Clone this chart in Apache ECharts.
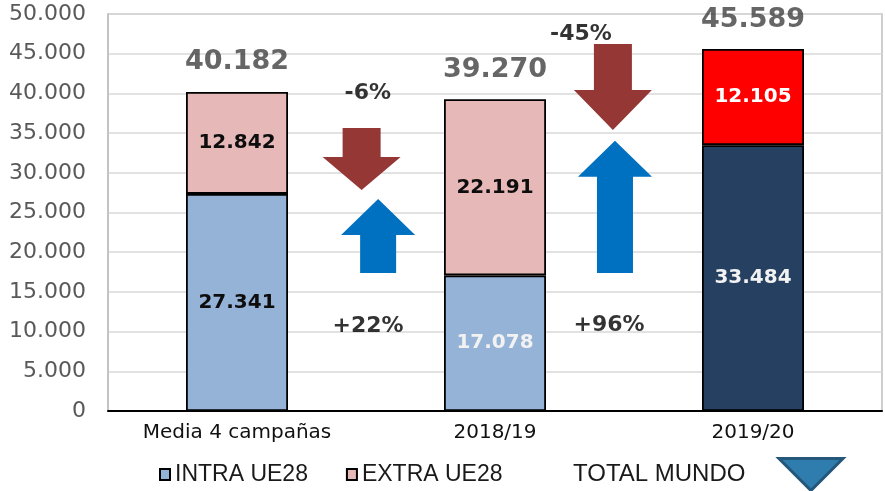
<!DOCTYPE html>
<html>
<head>
<meta charset="utf-8">
<script src="https://cdn.jsdelivr.net/npm/echarts@6/dist/echarts.min.js"></script>
<style>
html,body{margin:0;padding:0;background:#fff;}
#c{width:885px;height:491px;}
</style>
</head>
<body>
<div id="c"></div>
<script>
// ---- data ----
var categories = ['Media 4 campañas', '2018/19', '2019/20'];
var intraValues = [27341, 17078, 33484];
var extraValues = [12842, 22191, 12105];
var totalValues = [40182, 39270, 45589];
var yTicks = [0, 5000, 10000, 15000, 20000, 25000, 30000, 35000, 40000, 45000, 50000];
// change annotations: x in category units, y in data units
var pctLabels = ['-6%', '+22%', '-45%', '+96%'];
var pctX = [0.507, 0.508, 1.333, 1.442];
var pctY = [40050, 10700, 47500, 10830];
// arrows: [x (category units), tail value, head base value, tip value]
var downArrows = [[0.483, 35640, 31990, 27830], [1.457, 46220, 40430, 35390]];
var upArrows = [[0.547, 17380, 22170, 26700], [1.465, 17380, 29510, 34040]];

// ---- styles ----
var intraColors = ['#95B3D7', '#95B3D7', '#254061'];
var extraColors = ['#E6B9B8', '#E6B9B8', '#FF0000'];
var intraLabelColors = ['#0d0d0d', '#F2F2F2', '#F2F2F2'];
var extraLabelColors = ['#0d0d0d', '#0d0d0d', '#FFFFFF'];

function fmt(v) {
  return String(v).replace(/\B(?=(\d{3})+(?!\d))/g, '.');
}

function makeArrow(color, shaftHalf, headHalf) {
  return function (params, api) {
    var x = api.value(0);
    var pTail = api.coord([x, api.value(1)]);
    var pBase = api.coord([x, api.value(2)]);
    var pTip = api.coord([x, api.value(3)]);
    var cx = pTail[0];
    return {
      type: 'polygon',
      shape: {
        points: [
          [cx - shaftHalf, pTail[1]], [cx + shaftHalf, pTail[1]],
          [cx + shaftHalf, pBase[1]], [cx + headHalf, pBase[1]],
          [cx, pTip[1]],
          [cx - headHalf, pBase[1]], [cx - shaftHalf, pBase[1]]
        ]
      },
      style: { fill: color }
    };
  };
}

var barLabelFont = { fontFamily: 'DejaVu Sans', fontWeight: 'bold', fontSize: 20 };

var chart = echarts.init(document.getElementById('c'), null, { renderer: 'canvas' });
chart.setOption({
  animation: false,
  backgroundColor: '#ffffff',
  grid: {
    left: 108, top: 14, right: 3, bottom: 80,
    show: true, borderColor: '#BFBFBF', borderWidth: 1.5, backgroundColor: 'transparent'
  },
  legend: [
    {
      left: 159, top: 463, padding: 0,
      itemWidth: 10, itemHeight: 11, itemGap: 38,
      icon: 'rect',
      textStyle: { fontFamily: 'Liberation Sans', fontSize: 23, color: '#1a1a1a', lineHeight: 23 },
      data: ['INTRA UE28', 'EXTRA UE28']
    },
    {
      left: 573, top: 457, padding: 0,
      align: 'right',
      itemWidth: 67, itemHeight: 32,
      textStyle: { fontFamily: 'Liberation Sans', fontSize: 24, color: '#1a1a1a', lineHeight: 24, padding: [0, 27, 0, 0] },
      data: [{
        name: 'TOTAL MUNDO',
        icon: 'path://M0,0L20,0L10,10Z',
        itemStyle: { color: '#2F7DAE', borderColor: '#24577A', borderWidth: 3, opacity: 1 }
      }]
    }
  ],
  xAxis: [
    {
      type: 'category',
      data: categories,
      axisLine: { show: true, onZero: false, lineStyle: { color: '#000', width: 2 } },
      axisTick: { show: false },
      axisLabel: { margin: 12, fontFamily: 'DejaVu Sans', fontSize: 20, color: '#111' },
      splitLine: { show: false }
    },
    {
      type: 'value', min: -0.5, max: 2.5, show: false
    }
  ],
  yAxis: {
    type: 'value',
    min: yTicks[0], max: yTicks[yTicks.length - 1], interval: yTicks[1] - yTicks[0],
    axisLine: { show: true, onZero: false, lineStyle: { color: '#BFBFBF', width: 1.5 } },
    axisTick: { show: false },
    axisLabel: {
      margin: 22, fontFamily: 'DejaVu Sans', fontSize: 22, color: '#595959',
      formatter: function (v) { return fmt(v); }
    },
    splitLine: { show: true, lineStyle: { color: '#D9D9D9', width: 1.5 } }
  },
  series: [
    {
      name: 'INTRA UE28', type: 'bar', stack: 't', barWidth: 102,
      itemStyle: { color: intraColors[0], borderColor: '#000', borderWidth: 1.8 },
      data: intraValues.map(function (v, i) {
        return {
          value: v,
          itemStyle: { color: intraColors[i] },
          label: { color: intraLabelColors[i] }
        };
      }),
      label: Object.assign({ show: true, position: 'inside', formatter: function (p) { return fmt(p.value); } }, barLabelFont)
    },
    {
      name: 'EXTRA UE28', type: 'bar', stack: 't', barWidth: 102,
      itemStyle: { color: extraColors[0], borderColor: '#000', borderWidth: 1.8 },
      data: extraValues.map(function (v, i) {
        return {
          value: v,
          itemStyle: { color: extraColors[i] },
          label: { color: extraLabelColors[i] }
        };
      }),
      label: Object.assign({ show: true, position: 'inside', formatter: function (p) { return fmt(p.value); } }, barLabelFont)
    },
    {
      name: 'TOTAL MUNDO', type: 'scatter', symbolSize: 0, z: 5,
      itemStyle: { color: '#2F7DAE' },
      data: totalValues,
      label: {
        show: true, position: 'top', distance: 16,
        fontFamily: 'DejaVu Sans', fontWeight: 'bold', fontSize: 27, lineHeight: 27, color: '#404040',
        formatter: function (p) { return fmt(p.value); }
      }
    },
    {
      name: 'downArrows', type: 'custom', xAxisIndex: 1, z: 3, clip: false,
      renderItem: makeArrow('#953735', 19, 39),
      data: downArrows
    },
    {
      name: 'upArrows', type: 'custom', xAxisIndex: 1, z: 3, clip: false,
      renderItem: makeArrow('#0070C0', 18, 37),
      data: upArrows
    },
    {
      name: 'pct', type: 'scatter', xAxisIndex: 1, symbolSize: 0, z: 6,
      data: pctX.map(function (x, i) { return [x, pctY[i]]; }),
      label: {
        show: true, position: 'inside',
        fontFamily: 'DejaVu Sans', fontWeight: 'bold', fontSize: 22, color: '#000',
        formatter: function (p) { return pctLabels[p.dataIndex]; }
      }
    }
  ]
});
</script>
</body>
</html>
